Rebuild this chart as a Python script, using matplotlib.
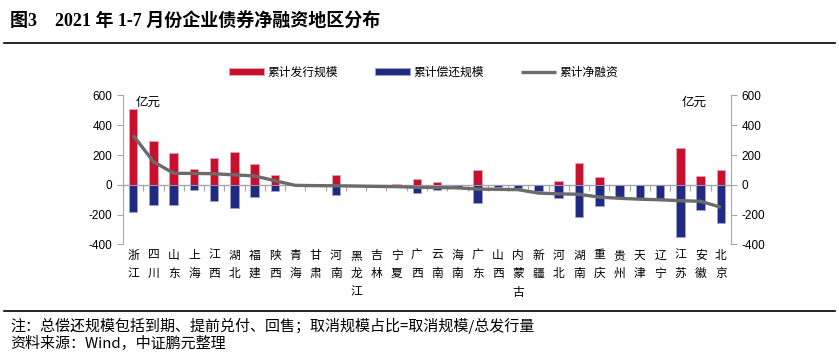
import matplotlib
matplotlib.use("Agg")
import matplotlib.pyplot as plt
from matplotlib.lines import Line2D
from matplotlib.ticker import FuncFormatter, FixedLocator
import numpy as np

plt.rcParams['font.family'] = ['Liberation Sans', 'Noto Sans CJK SC', 'DejaVu Sans']

regions = ["浙江", "四川", "山东", "上海", "江西", "湖北", "福建", "陕西", "青海", "甘肃",
           "河南", "黑龙江", "吉林", "宁夏", "广西", "云南", "海南", "广东", "山西", "内蒙古",
           "新疆", "河北", "湖南", "重庆", "贵州", "天津", "辽宁", "江苏", "安徽", "北京"]
issue = [511, 292, 212, 109, 183, 219, 143, 69, 2, 1,
         66, 1, 1, 6, 40, 18, 2, 98, 1, 1,
         0, 27, 149, 55, 0, 0, 0, 246, 61, 102]
repay = [-182, -136, -134, -34, -108, -153, -84, -43, -4, -5,
         -70, -8, -10, -17, -52, -32, -14, -123, -17, -22,
         -42, -91, -214, -139, -86, -92, -95, -351, -171, -254]
net = [333, 156, 78, 77, 75, 67, 60, 28, -3, -5,
       -6, -8, -10, -12, -16, -18, -20, -28, -30, -32,
       -55, -60, -63, -82, -90, -96, -100, -106, -110, -150]
yticks = [600, 400, 200, 0, -200, -400]

RED = "#C8102E"
BLUE = "#1F2A80"
GREY = "#6B6B6B"
AXC = "#A6A6A6"

fig = plt.figure(figsize=(8.39, 3.55), dpi=100)
ax = fig.add_axes([0.1466, 0.3113, 0.7247, 0.4197])
x = np.arange(len(regions))

ax.bar(x, issue, width=0.42, color=RED, edgecolor="#E9A3AE", linewidth=0.6, label="累计发行规模", zorder=2)
ax.bar(x, repay, width=0.42, color=BLUE, edgecolor="#9EA3D0", linewidth=0.6, label="累计偿还规模", zorder=2)

ax2 = ax.twinx()
ax2.plot(x, net, color=GREY, linewidth=2.4, label="累计净融资", zorder=3, solid_capstyle='butt')

for a in (ax, ax2):
    a.set_ylim(-400, 600)
    a.set_xlim(-0.5, len(regions) - 0.5)
    a.yaxis.set_major_locator(FixedLocator(yticks))
    a.yaxis.set_major_formatter(FuncFormatter(lambda v, p: "%d" % v))
    a.spines['top'].set_visible(False)
    a.spines['bottom'].set_visible(False)
    a.spines['left'].set_color(AXC)
    a.spines['right'].set_color(AXC)
    a.tick_params(axis='y', colors=AXC, labelcolor='black', labelsize=8.5, length=4, width=0.8)
    a.patch.set_visible(False)

ax.spines['right'].set_visible(False)
ax2.spines['left'].set_visible(False)

ax.set_xticks(x)
ax.set_xticklabels(["\n".join(r) for r in regions], fontsize=8.5, linespacing=1.55,
                   family=['Noto Sans CJK SC'])
ax.tick_params(axis='x', length=0, pad=3)

# category axis at zero
sec = ax.secondary_xaxis(0.4)
sec.set_xticks(np.arange(len(regions) + 1) - 0.5)
sec.set_xticklabels([])
sec.tick_params(axis='x', direction='out', length=4, color=AXC, width=0.8)
sec.spines['bottom'].set_color(AXC)
sec.spines['bottom'].set_linewidth(1.0)

ax.text(0.02, 0.952, "亿元", transform=ax.transAxes, fontsize=9, va='center', ha='left',
        family=['Noto Sans CJK SC'])
ax.text(0.919, 0.952, "亿元", transform=ax.transAxes, fontsize=9, va='center', ha='left',
        family=['Noto Sans CJK SC'])

h1, l1 = ax.get_legend_handles_labels()
h2, l2 = ax2.get_legend_handles_labels()
leg = fig.legend(h1 + h2, l1 + l2, loc='center', bbox_to_anchor=(0.505, 0.797), ncol=3,
                 frameon=False, prop={'family': ['Noto Sans CJK SC'], 'size': 8.5},
                 handlelength=2.9, handleheight=0.55, columnspacing=3.2, handletextpad=0.3)

fig.text(0.012, 0.938, "图3　2021 年 1-7 月份企业债券净融资地区分布", fontsize=13, fontweight='bold',
         va='center', ha='left', family=['Liberation Serif', 'Noto Sans CJK SC'])
fig.add_artist(Line2D([0.005, 0.995], [0.879, 0.879], transform=fig.transFigure, color='black', lw=1.2))
fig.add_artist(Line2D([0.005, 0.995], [0.124, 0.124], transform=fig.transFigure, color='black', lw=1.2))
fig.text(0.012, 0.082, "注：总偿还规模包括到期、提前兑付、回售；取消规模占比=取消规模/总发行量", fontsize=10.8,
         va='center', ha='left', family=['Noto Sans CJK SC'])
fig.text(0.012, 0.031, "资料来源：Wind，中证鹏元整理", fontsize=10.8, va='center', ha='left',
         family=['Noto Sans CJK SC', 'Liberation Serif'])

fig.savefig("out.png", dpi=100)
